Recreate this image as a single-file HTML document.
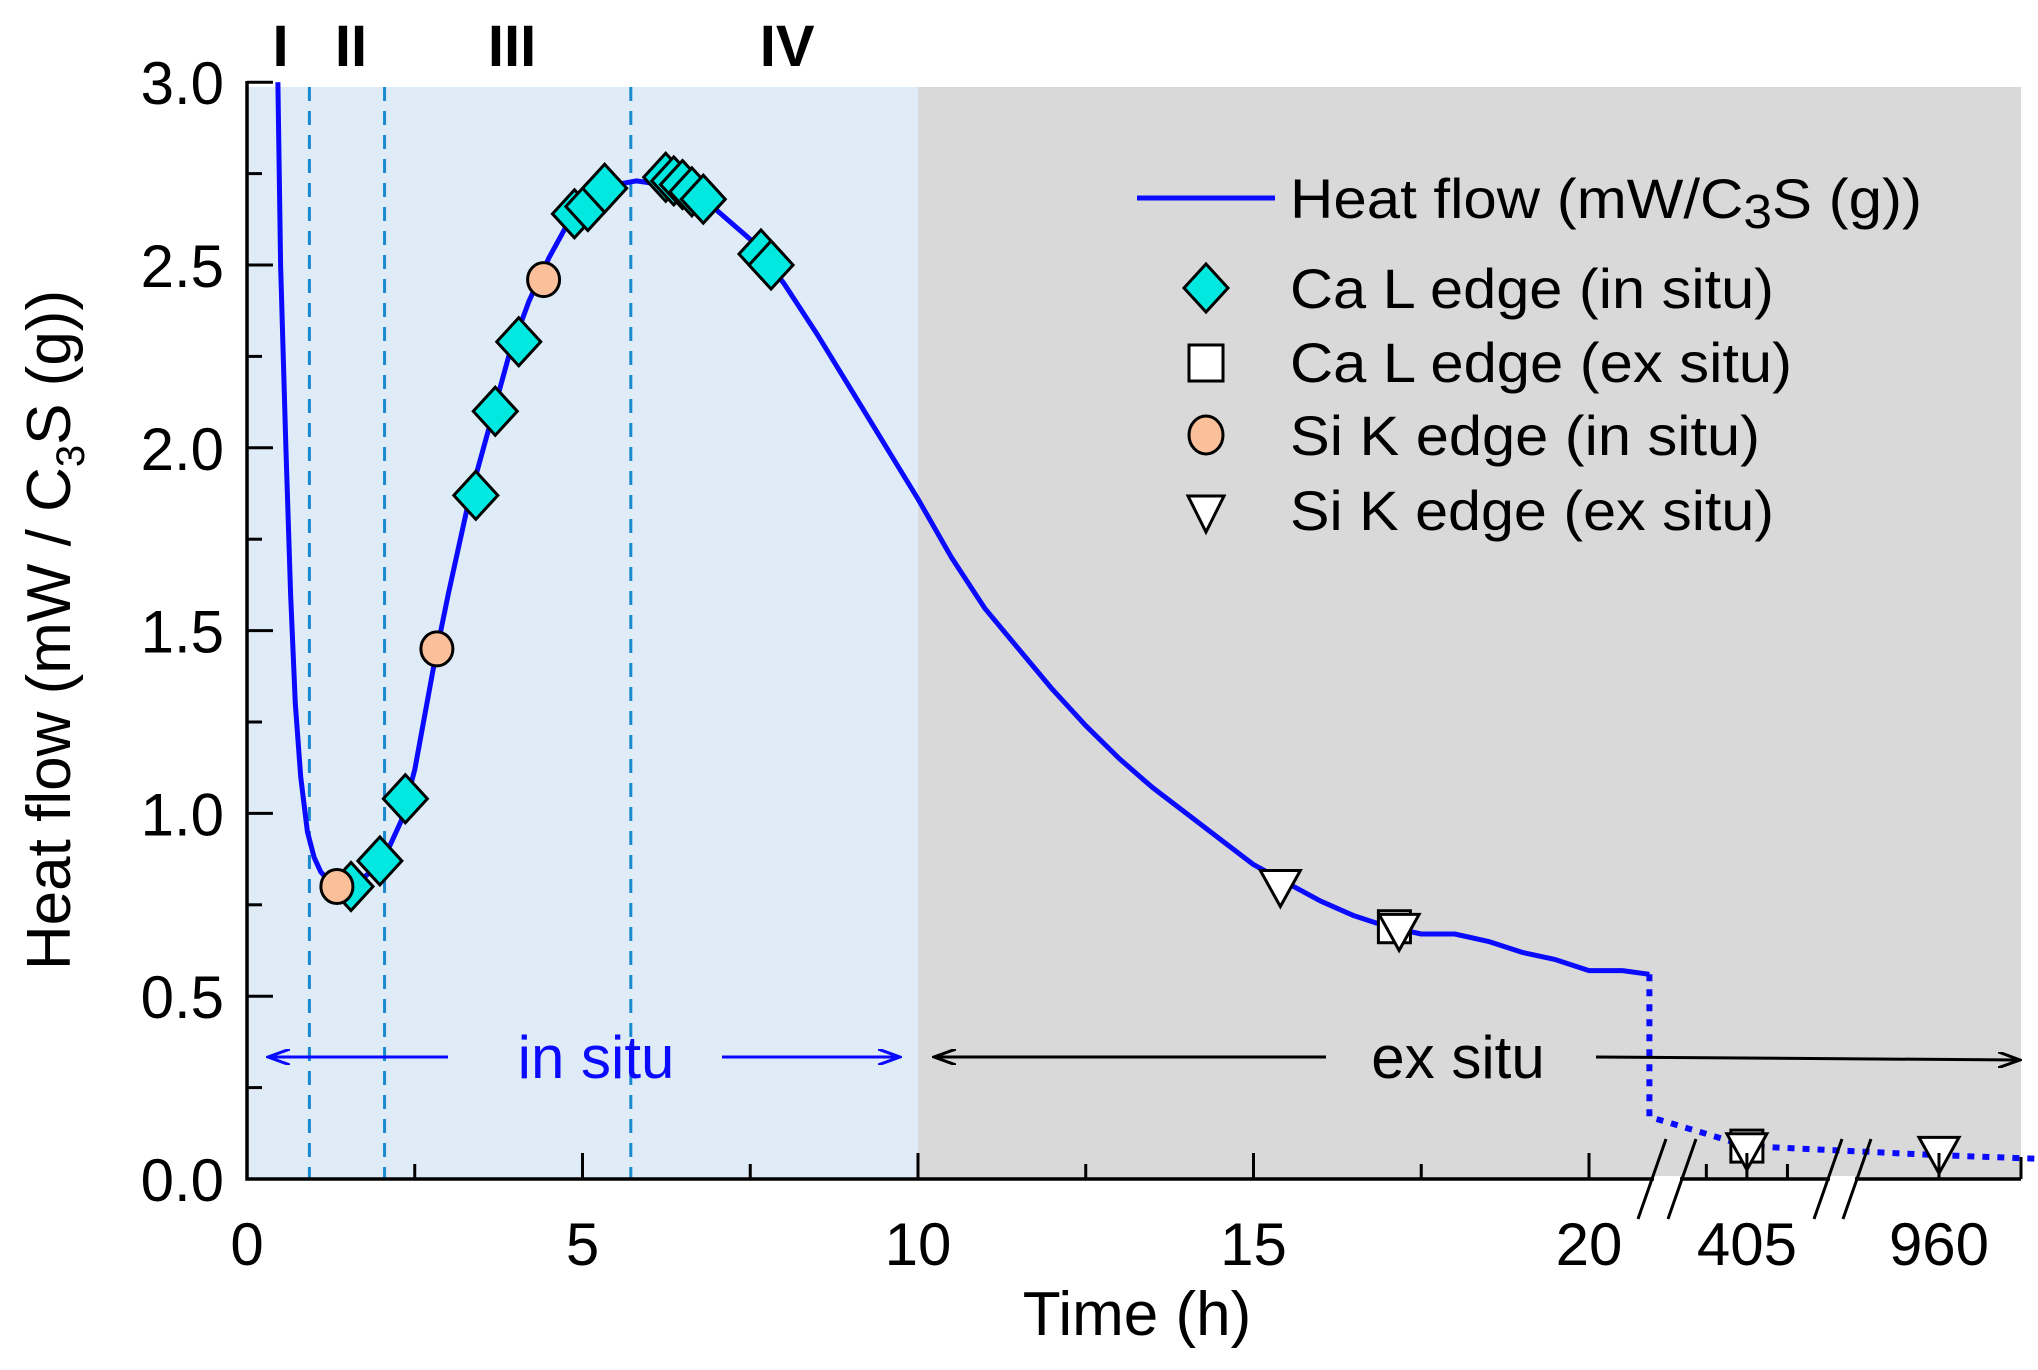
<!DOCTYPE html>
<html><head><meta charset="utf-8"><style>
html,body{margin:0;padding:0;background:#fff}
svg{display:block}
text{font-family:"Liberation Sans",Arial,sans-serif;fill:#000}
</style></head><body>
<svg id="chart" width="2038" height="1370" viewBox="0 0 2038 1370" xmlns="http://www.w3.org/2000/svg">
<g id="bg"></g>
<g id="vlines"></g>
<g id="curve"></g>
<g id="marks"></g>
<g id="axes"></g>
<g id="ann"></g>
<g id="legend"></g>
</svg>
<script>
// ---- data ----
const curveT = [0.46,0.5,0.58,0.65,0.72,0.8,0.9,1.0,1.1,1.3,1.5,1.7,2.0,2.3,2.5,2.8,3.0,3.3,3.6,3.9,4.2,4.5,4.8,5.1,5.5,5.8,6.2,6.6,7.0,7.5,8.0,8.5,9.0,9.5,10.0,10.5,11,11.5,12,12.5,13,13.5,14,14.5,15,15.5,16,16.5,17,17.5,18,18.5,19,19.5,20,20.5,20.9];
const curveV = [3.0,2.5,2.0,1.6,1.3,1.1,0.95,0.88,0.84,0.80,0.80,0.82,0.86,0.98,1.12,1.42,1.6,1.85,2.05,2.25,2.4,2.52,2.62,2.68,2.72,2.73,2.72,2.70,2.65,2.57,2.45,2.31,2.16,2.01,1.86,1.70,1.56,1.45,1.34,1.24,1.15,1.07,1.00,0.93,0.86,0.81,0.76,0.72,0.69,0.67,0.67,0.65,0.62,0.60,0.57,0.57,0.56];
const dotT = [20.9,20.9,405,960,985];
const dotV = [0.56,0.17,0.09,0.065,0.055];
const diamT = [1.55,1.98,2.36,3.41,3.70,4.05,4.88,5.08,5.33,6.24,6.36,6.49,6.63,6.80,7.66,7.81];
const diamV = [0.80,0.87,1.04,1.87,2.10,2.29,2.64,2.66,2.71,2.74,2.73,2.72,2.70,2.68,2.53,2.50];
const circT = [1.34,2.83,4.42];
const circV = [0.80,1.45,2.46];
const triT = [15.4,17.17,405,960];
const triV = [0.80,0.68,0.08,0.07];
const sqT = [17.1,405];
const sqV = [0.69,0.09];
const dividerT = [0.93,2.05,5.72];
const stageLabels = ["I","II","III","IV"];
const stageT = [0.5,1.55,3.95,8.05];
const xTickVals = [0,5,10,15,20,405,960];
const xTickLabels = ["0","5","10","15","20","405","960"];
const xMinorVals = [2.5,7.5,12.5,17.5,400,410];
const yTickVals = [0,0.5,1,1.5,2,2.5,3];
const yTickLabels = ["0.0","0.5","1.0","1.5","2.0","2.5","3.0"];

// ---- scales ----
const X0=247, Y0=1179, PXH=67.1, PXV=365.6;
function xs(t){
  if(t<=21.5) return X0+t*PXH;
  if(t<=500) return 1682+(t-397)/18*146;
  return 1857+(t-940)/40*164;
}
function ys(v){return Y0-v*PXV;}
const NS="http://www.w3.org/2000/svg";
function mk(parent,tag,attrs){const e=document.createElementNS(NS,tag);for(const k in attrs)e.setAttribute(k,attrs[k]);document.getElementById(parent).appendChild(e);return e;}

// backgrounds
let r=mk('bg','rect',{x:X0,y:87,width:xs(10)-X0,height:Y0-87,fill:'#dfebf6'});


r=mk('bg','rect',{x:xs(10),y:87,width:2021-xs(10),height:Y0-87,fill:'#d9d9d9'});



dividerT.forEach(t=>{
  const l=mk('vlines','line',{x1:xs(t),x2:xs(t),y1:87,y2:Y0,stroke:'#1a8ad0','stroke-width':3,'stroke-dasharray':'14 10'});
  
  
});

// curve
let d=curveT.map((t,i)=>(i?'L':'M')+xs(t).toFixed(1)+','+ys(curveV[i]).toFixed(1)).join(' ');
let p=mk('curve','path',{d:d,fill:'none',stroke:'#0a0aff','stroke-width':5,'stroke-linejoin':'round'});


d=dotT.map((t,i)=>(i?'L':'M')+xs(t).toFixed(1)+','+ys(dotV[i]).toFixed(1)).join(' ');
p=mk('curve','path',{d:d,fill:'none',stroke:'#0a0aff','stroke-width':6,'stroke-dasharray':'7 8'});



// markers
sqT.forEach((t,i)=>{const x=xs(t),y=ys(sqV[i]);
  const e=mk('marks','rect',{x:x-16,y:y-16,width:32,height:32,fill:'#fff',stroke:'#000','stroke-width':3});
  
  });
triT.forEach((t,i)=>{const x=xs(t),y=ys(triV[i]);
  const e=mk('marks','path',{d:`M${x-20},${y-16} L${x+20},${y-16} L${x},${y+20} Z`,fill:'#fff',stroke:'#000','stroke-width':3});
  
  });
diamT.forEach((t,i)=>{const x=xs(t),y=ys(diamV[i]);
  const e=mk('marks','path',{d:`M${x},${y-24} L${x+22},${y} L${x},${y+24} L${x-22},${y} Z`,fill:'#00e8df',stroke:'#000','stroke-width':3});
  
  });
circT.forEach((t,i)=>{const x=xs(t),y=ys(circV[i]);
  const e=mk('marks','ellipse',{cx:x,cy:y,rx:16,ry:17,fill:'#fbbf9a',stroke:'#000','stroke-width':3});
  
  });

// axes
let a=mk('axes','path',{d:`M${X0},81 L${X0},${Y0} L2021,${Y0}`,fill:'none',stroke:'#000','stroke-width':3.5});


[[1652,1682],[1828,1857]].forEach(b=>{
  const w=mk('axes','rect',{x:b[0]+2,y:Y0-3,width:b[1]-b[0]-4,height:6,fill:'#fff'});
  
  
  [b[0],b[1]].forEach(bx=>{
    const s=mk('axes','line',{x1:bx-14,y1:Y0+40,x2:bx+14,y2:Y0-40,stroke:'#000','stroke-width':3});
    
    
  });
});
const rt=mk('axes','line',{x1:2021,x2:2021,y1:Y0,y2:Y0-22,stroke:'#000','stroke-width':3});


xTickVals.forEach((v,i)=>{const x=xs(v);
  const tk=mk('axes','line',{x1:x,x2:x,y1:Y0,y2:Y0-26,stroke:'#000','stroke-width':3});
  
  
  const tx=mk('axes','text',{x:x,y:1265,'font-size':60,'text-anchor':'middle'});
  tx.textContent=xTickLabels[i];
  
  });
xMinorVals.forEach(v=>{const x=xs(v);
  const tk=mk('axes','line',{x1:x,x2:x,y1:Y0,y2:Y0-15,stroke:'#000','stroke-width':3});
  
  });
yTickVals.forEach((v,i)=>{const y=ys(v);
  const tk=mk('axes','line',{x1:X0,x2:X0+26,y1:y,y2:y,stroke:'#000','stroke-width':3});
  
  
  if(i<yTickVals.length-1){const m=ys(v+0.25);
    const mt=mk('axes','line',{x1:X0,x2:X0+15,y1:m,y2:m,stroke:'#000','stroke-width':3});
    
    }
  const tx=mk('axes','text',{x:224,y:y+22,'font-size':60,'text-anchor':'end'});
  tx.textContent=yTickLabels[i];
  
  });

stageLabels.forEach((s,i)=>{
  const tx=mk('ann','text',{x:xs(stageT[i]),y:66,'font-size':58,'font-weight':'bold','text-anchor':'middle'});
  tx.textContent=s;
  
  });
</script>
<script>
(function(){
const ann=document.getElementById('ann');
ann.insertAdjacentHTML('beforeend',`
<defs>
<marker id="ak" markerWidth="24" markerHeight="16" refX="22" refY="8" orient="auto-start-reverse" markerUnits="userSpaceOnUse"><path d="M0,0 L22,8 L0,16" fill="none" stroke="#000" stroke-width="3"/></marker>
<marker id="ab2" markerWidth="24" markerHeight="16" refX="22" refY="8" orient="auto-start-reverse" markerUnits="userSpaceOnUse"><path d="M0,0 L22,8 L0,16" fill="none" stroke="#0a0aff" stroke-width="3"/></marker></defs>
<line x1="448" y1="1057" x2="268" y2="1057" stroke="#0a0aff" stroke-width="3" marker-end="url(#ab2)"/>
<line x1="722" y1="1057" x2="900" y2="1057" stroke="#0a0aff" stroke-width="3" marker-end="url(#ab2)"/>
<text x="596" y="1078" font-size="60" text-anchor="middle" style="fill:#0a0aff">in situ</text>
<line x1="1326" y1="1057" x2="934" y2="1057" stroke="#000" stroke-width="3" marker-end="url(#ak)"/>
<line x1="1596" y1="1057" x2="2020" y2="1060" stroke="#000" stroke-width="3" marker-end="url(#ak)"/>
<text x="1458" y="1078" font-size="60" text-anchor="middle">ex situ</text>
<text x="1137" y="1335" font-size="62" text-anchor="middle">Time (h)</text>
<text transform="translate(70,630) rotate(-90)" font-size="62" text-anchor="middle">Heat flow (mW / C<tspan font-size="40" dy="14">3</tspan><tspan dy="-14">S (g))</tspan></text>
`);
const lg=document.getElementById('legend');
lg.insertAdjacentHTML('beforeend',`
<g><line x1="1137" y1="198" x2="1275" y2="198" stroke="#0a0aff" stroke-width="5"/>
<text x="1290" y="218" font-size="56" textLength="632" lengthAdjust="spacingAndGlyphs">Heat flow (mW/C<tspan font-size="48" dy="10">3</tspan><tspan dy="-10">S (g))</tspan></text></g>
<g><path d="M1206,264 L1228,288 L1206,312 L1184,288 Z" fill="#00e8df" stroke="#000" stroke-width="3"/>
<text x="1290" y="308" font-size="56" textLength="484" lengthAdjust="spacingAndGlyphs">Ca L edge (in situ)</text></g>
<g><rect x="1189" y="345" width="34" height="36" fill="#fff" stroke="#000" stroke-width="3"/>
<text x="1290" y="382" font-size="56" textLength="502" lengthAdjust="spacingAndGlyphs">Ca L edge (ex situ)</text></g>
<g><ellipse cx="1206" cy="435" rx="17" ry="19" fill="#fbbf9a" stroke="#000" stroke-width="3"/>
<text x="1290" y="455" font-size="56" textLength="470" lengthAdjust="spacingAndGlyphs">Si K edge (in situ)</text></g>
<g><path d="M1188,496 L1224,496 L1206,532 Z" fill="#fff" stroke="#000" stroke-width="3"/>
<text x="1290" y="530" font-size="56" textLength="484" lengthAdjust="spacingAndGlyphs">Si K edge (ex situ)</text></g>
`);
})();
</script>
</body></html>
